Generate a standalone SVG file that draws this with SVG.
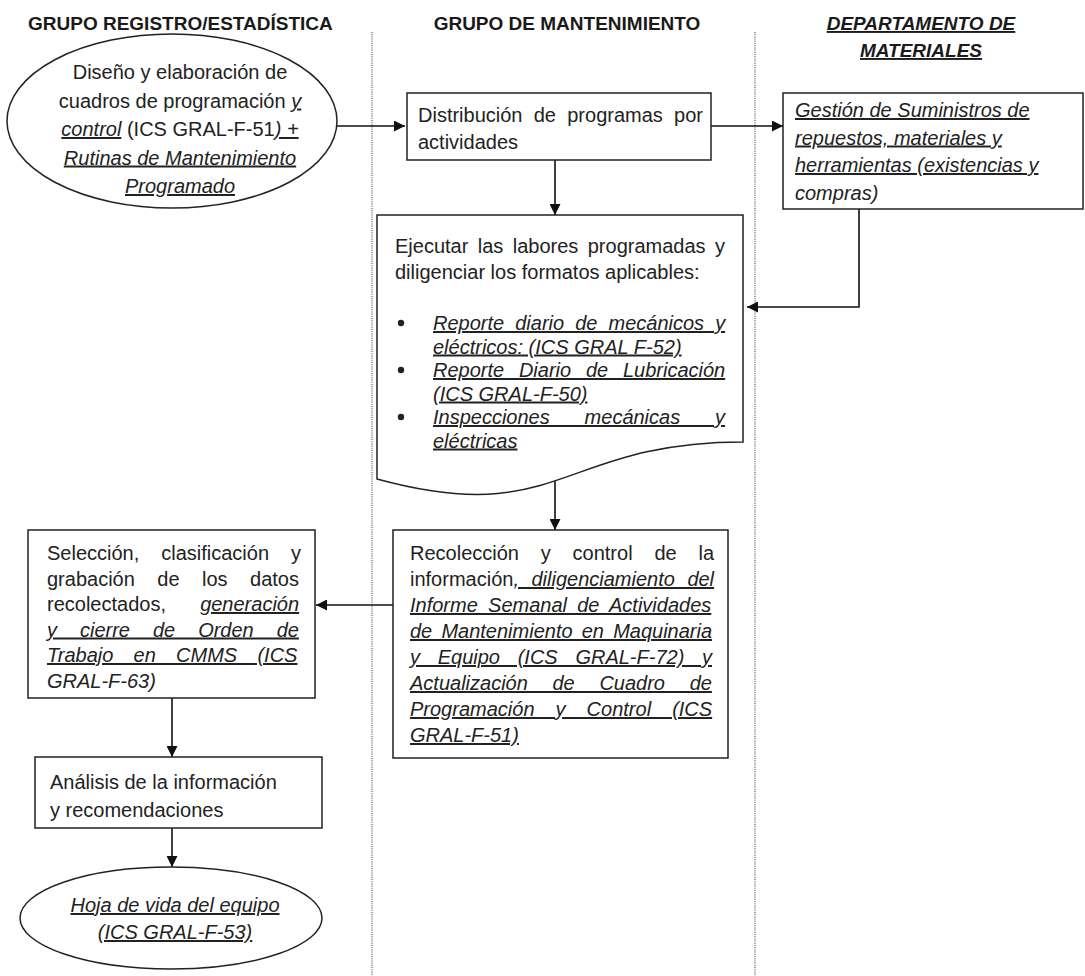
<svg xmlns="http://www.w3.org/2000/svg" width="1085" height="976" viewBox="0 0 1085 976">
<defs>
<style>
.box{fill:#fff;stroke:#222;stroke-width:1.5}
.t{font-family:"Liberation Sans",Arial,sans-serif;font-size:20px;fill:#222}
.h{font-family:"Liberation Sans",Arial,sans-serif;font-size:19px;font-weight:bold;fill:#1a1a1a}
.i{font-style:italic}
.u{text-decoration:underline}
.lane{stroke:#777;stroke-width:1.5;stroke-dasharray:1 1.2;fill:none}
.c{stroke:#111;stroke-width:1.6;fill:none;marker-end:url(#ah)}
.cn{stroke:#111;stroke-width:1.6;fill:none}
</style>
<marker id="ah" markerWidth="11" markerHeight="11" refX="11" refY="5.5" orient="auto" markerUnits="userSpaceOnUse">
<path d="M0,0 L11,5.5 L0,11 z" fill="#111"/>
</marker>
</defs>
<rect width="1085" height="976" fill="#fff"/>

<g id="lanes">
<line class="lane" x1="372" y1="32" x2="372" y2="976"/>
<line class="lane" x1="755" y1="32" x2="755" y2="976"/>
<text class="h" x="28" y="30">GRUPO REGISTRO/ESTADÍSTICA</text>
<text class="h" x="567" y="30" text-anchor="middle">GRUPO DE MANTENIMIENTO</text>
<text class="h i u" x="921" y="30" text-anchor="middle">DEPARTAMENTO DE</text>
<text class="h i u" x="921" y="57" text-anchor="middle">MATERIALES</text>
</g>

<g id="connectors">
<line class="c" x1="337" y1="126" x2="405" y2="126"/>
<line class="c" x1="711" y1="126" x2="783" y2="126"/>
<line class="c" x1="555" y1="160" x2="555" y2="215"/>
<polyline class="c" points="859,209 859,307 747,307"/>
<line class="c" x1="555" y1="480" x2="555" y2="530"/>
<line class="c" x1="393" y1="605" x2="316" y2="605"/>
<line class="c" x1="172" y1="698" x2="172" y2="757"/>
<line class="c" x1="172" y1="828" x2="172" y2="867"/>
</g>

<g id="n_diseno">
<ellipse class="box" cx="172" cy="121" rx="165" ry="87"/>
<text class="t" x="180" y="79" text-anchor="middle">Diseño y elaboración de</text>
<text class="t" x="180" y="107.5" text-anchor="middle">cuadros de programación <tspan class="i u">y</tspan></text>
<text class="t" x="180" y="136" text-anchor="middle"><tspan class="i u">control</tspan> (ICS GRAL-F-51<tspan class="i u">) +</tspan></text>
<text class="t i u" x="180" y="164.5" text-anchor="middle">Rutinas de Mantenimiento</text>
<text class="t i u" x="180" y="193" text-anchor="middle">Programado</text>
</g>

<g id="n_distribucion">
<rect class="box" x="407" y="93" width="304" height="67"/>
<text class="t" x="418" y="122" style="word-spacing:5.7px">Distribución de programas por</text>
<text class="t" x="418" y="149">actividades</text>
</g>

<g id="n_gestion">
<rect class="box" x="783" y="93" width="300" height="116"/>
<text class="t i u" x="795" y="117">Gestión de Suministros de</text>
<text class="t i u" x="795" y="144.5">repuestos, materiales y</text>
<text class="t i u" x="795" y="172">herramientas (existencias y</text>
<text class="t i" x="795" y="199.5">compras)</text>
</g>

<g id="n_ejecutar">
<path class="box" d="M377,215 H743 V442 C560,442 560,529 377,479 Z"/>
<text class="t" x="395" y="253" style="word-spacing:3.85px">Ejecutar las labores programadas y</text>
<text class="t" x="395" y="279">diligenciar los formatos aplicables:</text>
<circle cx="401" cy="323" r="3.2" fill="#222"/>
<circle cx="401" cy="370" r="3.2" fill="#222"/>
<circle cx="401" cy="417" r="3.2" fill="#222"/>
<text class="t i u" x="433" y="330" style="word-spacing:5.5px">Reporte diario de mecánicos y</text>
<text class="t i u" x="433" y="353.5">eléctricos: (ICS GRAL F-52)</text>
<text class="t i u" x="433" y="377" style="word-spacing:9.2px">Reporte Diario de Lubricación</text>
<text class="t i u" x="433" y="400.5">(ICS GRAL-F-50)</text>
<text class="t i u" x="433" y="424" style="word-spacing:29.3px">Inspecciones mecánicas y</text>
<text class="t i u" x="433" y="447.5">eléctricas</text>
</g>

<g id="n_recoleccion">
<rect class="box" x="393" y="530" width="335" height="228"/>
<text class="t" x="410" y="560" style="word-spacing:16.25px">Recolección y control de la</text>
<text class="t" x="410" y="586" style="word-spacing:6.95px">información<tspan class="i u">, diligenciamiento del</tspan></text>
<text class="t i u" x="410" y="612" style="word-spacing:4.7px">Informe Semanal de Actividades</text>
<text class="t i u" x="410" y="638" style="word-spacing:3.6px">de Mantenimiento en Maquinaria</text>
<text class="t i u" x="410" y="664" style="word-spacing:12.15px">y Equipo (ICS GRAL-F-72) y</text>
<text class="t i u" x="410" y="690" style="word-spacing:19.1px">Actualización de Cuadro de</text>
<text class="t i u" x="410" y="716" style="word-spacing:15.5px">Programación y Control (ICS</text>
<text class="t i u" x="410" y="742">GRAL-F-51)</text>
</g>

<g id="n_seleccion">
<rect class="box" x="28" y="530" width="287" height="168"/>
<text class="t" x="47" y="560" style="word-spacing:16.4px">Selección, clasificación y</text>
<text class="t" x="47" y="585.5" style="word-spacing:16.9px">grabación de los datos</text>
<text class="t" x="47" y="611" style="word-spacing:28.6px">recolectados, <tspan class="i u">generación</tspan></text>
<text class="t i u" x="47" y="636.5" style="word-spacing:17.4px">y cierre de Orden de</text>
<text class="t i u" x="47" y="662" style="word-spacing:14.7px">Trabajo en CMMS (ICS</text>
<text class="t i" x="47" y="687.5">GRAL-F-63)</text>
</g>

<g id="n_analisis">
<rect class="box" x="35" y="757" width="287" height="71"/>
<text class="t" x="50" y="789">Análisis de la información</text>
<text class="t" x="50" y="817">y recomendaciones</text>
</g>

<g id="n_hoja">
<ellipse class="box" cx="171" cy="918" rx="151" ry="51"/>
<text class="t i u" x="175" y="912" text-anchor="middle">Hoja de vida del equipo</text>
<text class="t i u" x="175" y="939" text-anchor="middle">(ICS GRAL-F-53)</text>
</g>
</svg>
